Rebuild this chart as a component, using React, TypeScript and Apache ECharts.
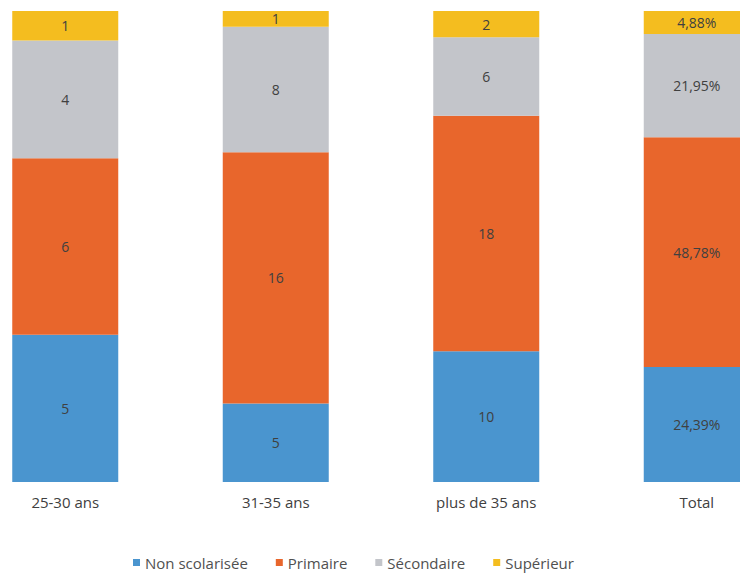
import React, { useEffect, useRef } from "react";
import * as echarts from "echarts";

const categories = ["25-30 ans", "31-35 ans", "plus de 35 ans", "Total"];
const seriesNames = ["Non scolarisée", "Primaire", "Sécondaire", "Supérieur"];
// raw counts for the three age groups
const nonScolarisee = [5, 5, 10];
const primaire = [6, 16, 18];
const secondaire = [4, 8, 6];
const superieur = [1, 1, 2];
// Total column percentages as shown
const totalPct = [24.39, 48.78, 21.95, 4.88];
const colors = ["#4a95cf", "#e8662c", "#c3c5ca", "#f4bd1f"];

export default function App() {
  const ref = useRef<HTMLDivElement>(null);
  useEffect(() => {
    if (!ref.current) return;
    const chart = echarts.init(ref.current, undefined, { renderer: "svg" });
    const raw = [nonScolarisee, primaire, secondaire, superieur];
    const sums = [0, 1, 2].map((i) => raw.reduce((s, arr) => s + arr[i], 0));
    const series = raw.map((arr, k) => ({
      name: seriesNames[k],
      type: "bar",
      stack: "all",
      barWidth: 106,
      itemStyle: { color: colors[k] },
      label: {
        show: true,
        position: "inside",
        color: "#404040",
        fontSize: 14,
        fontFamily: "Open Sans",
        formatter: (p: any) =>
          p.dataIndex < 3
            ? String(arr[p.dataIndex])
            : totalPct[k].toFixed(2).replace(".", ",") + "%",
      },
      data: [...arr.map((v, i) => (v / sums[i]) * 100), totalPct[k]],
    }));
    chart.setOption({
      animation: false,
      grid: { left: 0, right: 0, top: 11, bottom: 93 },
      xAxis: {
        type: "category",
        data: categories,
        axisLine: { show: false },
        axisTick: { show: false },
        axisLabel: {
          color: "#404040",
          fontSize: 15,
          fontFamily: "Open Sans",
          margin: 12,
        },
      },
      yAxis: {
        type: "value",
        min: 0,
        max: 100,
        show: false,
        splitLine: { show: false },
      },
      legend: {
        data: seriesNames,
        left: 168,
        bottom: 0,
        itemWidth: 7,
        itemHeight: 7,
        itemGap: 28,
        icon: "rect",
        textStyle: { color: "#505050", fontSize: 15, fontFamily: "Open Sans" },
      },
      series,
    });
    return () => chart.dispose();
  }, []);
  return (
    <div
      style={{
        position: "absolute",
        left: 0,
        top: 0,
        width: 740,
        height: 575,
        overflow: "hidden",
        background: "#fff",
      }}
    >
      <div
        ref={ref}
        style={{ position: "absolute", left: -40, top: 0, width: 842, height: 575 }}
      />
    </div>
  );
}
